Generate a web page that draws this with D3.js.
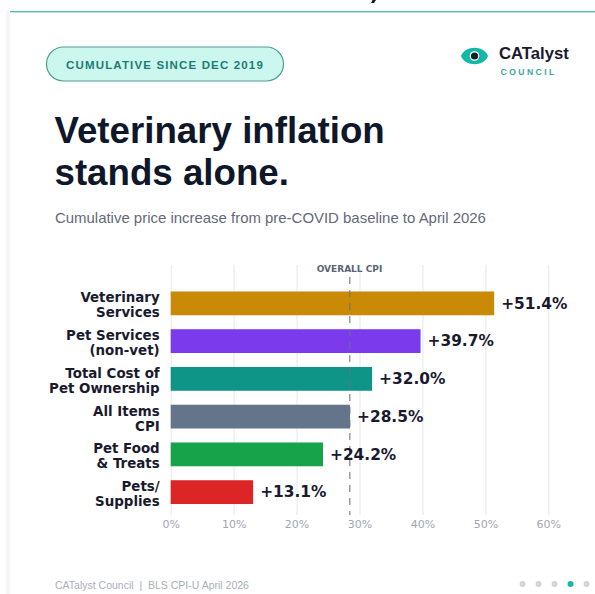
<!DOCTYPE html>
<html>
<head>
<meta charset="utf-8">
<script src="https://cdn.jsdelivr.net/npm/d3@7/dist/d3.min.js"></script>
<style>
html,body{margin:0;padding:0;background:#fff;}
svg{display:block;}
</style>
</head>
<body>
<svg id="card" width="595" height="594"></svg>
<script>
const categories = [["Veterinary","Services"],["Pet Services","(non-vet)"],["Total Cost of","Pet Ownership"],["All Items","CPI"],["Pet Food","& Treats"],["Pets/","Supplies"]];
const values = [51.4, 39.7, 32.0, 28.5, 24.2, 13.1];
const barColors = ["#c98a06","#7c3aed","#0f9488","#64748b","#16a34a","#dc2626"];
const xTicks = [0,10,20,30,40,50,60];
const cpiLine = 28.5;
const pagerDots = [0,1,2,3,4];
const activeDot = 3;

const svg = d3.select("#card");
const sans = "'Liberation Sans', Arial, sans-serif";
const deja = "'DejaVu Sans', sans-serif";

// card edge, accent rule and the tail of the line above the card
svg.append("rect").attr("x",6).attr("y",11).attr("width",4).attr("height",583).attr("fill","#f5f5f7");
svg.append("rect").attr("x",10).attr("y",11).attr("width",585).attr("height",1.4).attr("fill","#4fbfb6");
svg.append("path").attr("d","M371 3 L374 3 L376 0 L372.5 0 Z").attr("fill","#1a1a2e");

// period pill
svg.append("rect").attr("x",46.5).attr("y",47).attr("width",237).attr("height",34).attr("rx",17)
  .attr("fill","#ccf7ee").attr("stroke","#4f9f98").attr("stroke-width",1.2);
svg.append("text").attr("x",165).attr("y",69).attr("text-anchor","middle")
  .attr("font-family",sans).attr("font-weight",700).attr("font-size",11.5).attr("letter-spacing",1.15)
  .attr("fill","#1a7d74").text("CUMULATIVE SINCE DEC 2019");

// logo mark
svg.append("path").attr("d","M461 56 C465 45 484 45 488 56 C484 67 465 67 461 56 Z").attr("fill","#14b8a6");
svg.append("circle").attr("cx",474.5).attr("cy",56).attr("r",4.8).attr("fill","#fff");
svg.append("circle").attr("cx",474.5).attr("cy",56).attr("r",3.6).attr("fill","#1a1a2e");
svg.append("text").attr("x",499).attr("y",59).attr("font-family",sans).attr("font-weight",700)
  .attr("font-size",16.7).attr("fill","#1a1a2e").text("CATalyst");
svg.append("text").attr("x",500.5).attr("y",75).attr("font-family",sans).attr("font-weight",700)
  .attr("font-size",8.5).attr("letter-spacing",2.5).attr("fill","#3aa89c").text("COUNCIL");

// headline block
svg.append("text").attr("x",54.5).attr("y",143).attr("font-family",sans).attr("font-weight",700)
  .attr("font-size",36.7).attr("fill","#0f172a").text("Veterinary inflation");
svg.append("text").attr("x",54.5).attr("y",185).attr("font-family",sans).attr("font-weight",700)
  .attr("font-size",36.7).attr("fill","#0f172a").text("stands alone.");
svg.append("text").attr("x",55).attr("y",223).attr("font-family",sans)
  .attr("font-size",14.95).attr("fill","#64697a").text("Cumulative price increase from pre-COVID baseline to April 2026");

// chart scales
const x = d3.scaleLinear().domain([0,60]).range([170.7,548.3]);
const y = d3.scaleBand().domain(d3.range(values.length)).range([284.5,511]).paddingInner(0.37).paddingOuter(0.185);

// gridlines and axis labels
const axis = d3.axisBottom(x).tickValues(xTicks).tickFormat(d=>d+"%").tickSize(-250).tickPadding(5);
const axisG = svg.append("g").attr("transform","translate(0,515)").call(axis);
axisG.select(".domain").remove();
axisG.selectAll(".tick line").attr("stroke","#e6e7ee").attr("stroke-width",1);
axisG.selectAll(".tick text").attr("font-family",deja).attr("font-size",11).attr("fill","#a0a5b1");

// bars
svg.append("g").selectAll("rect").data(values).join("rect")
  .attr("x",x(0)).attr("y",(d,i)=>y(i)).attr("width",d=>x(d)-x(0)).attr("height",y.bandwidth())
  .attr("fill",(d,i)=>barColors[i]);

// overall CPI reference line
svg.append("line").attr("x1",x(cpiLine)-0.3).attr("x2",x(cpiLine)-0.3).attr("y1",277).attr("y2",515)
  .attr("stroke","#6b7280").attr("stroke-opacity",0.75).attr("stroke-width",1.4).attr("stroke-dasharray","7 6");
svg.append("text").attr("x",349.5).attr("y",272).attr("text-anchor","middle").attr("font-family",deja)
  .attr("font-weight",700).attr("font-size",9).attr("fill","#5b6472").text("OVERALL CPI");

// category labels
const labels = svg.append("g").selectAll("text").data(categories).join("text")
  .attr("text-anchor","end").attr("font-family",deja).attr("font-weight",700)
  .attr("font-size",13.4).attr("fill","#1a1a2e");
labels.each(function(lines,i){
  const t = d3.select(this);
  lines.forEach((ln,k)=>t.append("tspan").attr("x",159.7)
    .attr("y",y(i)+y.bandwidth()/2+(k===0?-1:14)).text(ln));
});

// value labels
svg.append("g").selectAll("text").data(values).join("text")
  .attr("x",d=>x(d)+7).attr("y",(d,i)=>y(i)+y.bandwidth()/2+5.3)
  .attr("font-family",deja).attr("font-weight",700).attr("font-size",15.4).attr("fill","#1a1a2e")
  .text(d=>"+"+d.toFixed(1)+"%");

// footer
svg.append("text").attr("x",55).attr("y",589).attr("font-family",sans).attr("font-size",10.5)
  .attr("fill","#a9aeb9").style("white-space","pre").text("CATalyst Council  |  BLS CPI-U April 2026");
svg.append("g").selectAll("circle").data(pagerDots).join("circle")
  .attr("cx",d=>522.5+d*16).attr("cy",584).attr("r",3)
  .attr("fill",d=>d===activeDot?"#14b8a6":"#d1d5e0");
</script>
</body>
</html>
